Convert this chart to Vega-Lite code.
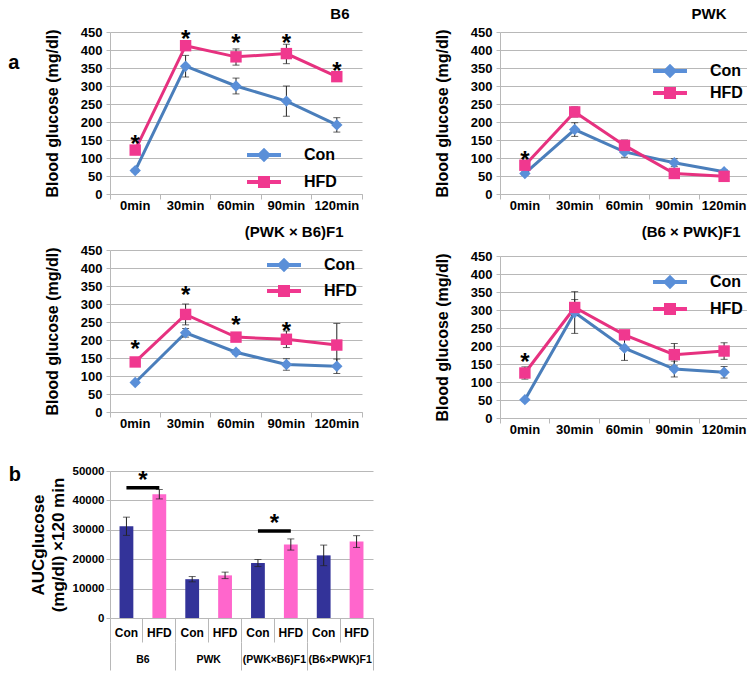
{
  "$schema": "https://vega.github.io/schema/vega-lite/v6.json",
  "padding": {"left": 8, "top": 7, "right": 0, "bottom": 0},
  "background": "white",
  "config": {
    "view": {"stroke": null},
    "font": "Liberation Sans",
    "axis": {"labelFont": "Liberation Sans", "labelFontWeight": "bold", "labelColor": "#000", "titleFont": "Liberation Sans", "titleFontWeight": "bold", "titleColor": "#000", "gridColor": "#b8b8b8", "domainColor": "#b8b8b8", "tickColor": "#b8b8b8"},
    "axisX": {"labelAngle": 0, "bandPosition": 1, "tickExtra": true, "tickSize": 5, "labelPadding": 0, "labelFontSize": 13, "grid": false},
    "title": {"font": "Liberation Sans", "fontWeight": "bold", "fontSize": 15, "color": "#000", "offset": 4},
    "legend": {"labelFont": "Liberation Sans", "labelFontWeight": "bold", "labelFontSize": 16, "labelColor": "#000"}
  },
  "datasets": {
    "lines": [
      {"strain": "B6", "time": "0min", "group": "Con", "value": 65, "lo": 60, "hi": 70},
      {"strain": "B6", "time": "30min", "group": "Con", "value": 355, "lo": 325, "hi": 385},
      {"strain": "B6", "time": "60min", "group": "Con", "value": 300, "lo": 278, "hi": 322},
      {"strain": "B6", "time": "90min", "group": "Con", "value": 258, "lo": 216, "hi": 300},
      {"strain": "B6", "time": "120min", "group": "Con", "value": 192, "lo": 172, "hi": 212},
      {"strain": "B6", "time": "0min", "group": "HFD", "value": 122, "lo": 114, "hi": 130},
      {"strain": "B6", "time": "30min", "group": "HFD", "value": 412, "lo": 405, "hi": 419},
      {"strain": "B6", "time": "60min", "group": "HFD", "value": 381, "lo": 358, "hi": 403},
      {"strain": "B6", "time": "90min", "group": "HFD", "value": 390, "lo": 362, "hi": 416},
      {"strain": "B6", "time": "120min", "group": "HFD", "value": 326, "lo": 320, "hi": 332},
      {"strain": "PWK", "time": "0min", "group": "Con", "value": 57, "lo": 52, "hi": 62},
      {"strain": "PWK", "time": "30min", "group": "Con", "value": 179, "lo": 160, "hi": 198},
      {"strain": "PWK", "time": "60min", "group": "Con", "value": 117, "lo": 102, "hi": 132},
      {"strain": "PWK", "time": "90min", "group": "Con", "value": 87, "lo": 76, "hi": 98},
      {"strain": "PWK", "time": "120min", "group": "Con", "value": 62, "lo": 57, "hi": 67},
      {"strain": "PWK", "time": "0min", "group": "HFD", "value": 80, "lo": 74, "hi": 86},
      {"strain": "PWK", "time": "30min", "group": "HFD", "value": 228, "lo": 214, "hi": 242},
      {"strain": "PWK", "time": "60min", "group": "HFD", "value": 135, "lo": 120, "hi": 150},
      {"strain": "PWK", "time": "90min", "group": "HFD", "value": 57, "lo": 52, "hi": 62},
      {"strain": "PWK", "time": "120min", "group": "HFD", "value": 49, "lo": 44, "hi": 54},
      {"strain": "PWKxB6", "time": "0min", "group": "Con", "value": 82, "lo": 78, "hi": 86},
      {"strain": "PWKxB6", "time": "30min", "group": "Con", "value": 220, "lo": 208, "hi": 232},
      {"strain": "PWKxB6", "time": "60min", "group": "Con", "value": 166, "lo": 160, "hi": 172},
      {"strain": "PWKxB6", "time": "90min", "group": "Con", "value": 132, "lo": 116, "hi": 148},
      {"strain": "PWKxB6", "time": "120min", "group": "Con", "value": 127, "lo": 107, "hi": 147},
      {"strain": "PWKxB6", "time": "0min", "group": "HFD", "value": 139, "lo": 134, "hi": 144},
      {"strain": "PWKxB6", "time": "30min", "group": "HFD", "value": 271, "lo": 242, "hi": 300},
      {"strain": "PWKxB6", "time": "60min", "group": "HFD", "value": 208, "lo": 203, "hi": 213},
      {"strain": "PWKxB6", "time": "90min", "group": "HFD", "value": 202, "lo": 179, "hi": 225},
      {"strain": "PWKxB6", "time": "120min", "group": "HFD", "value": 186, "lo": 126, "hi": 246},
      {"strain": "B6xPWK", "time": "0min", "group": "Con", "value": 51, "lo": 48, "hi": 54},
      {"strain": "B6xPWK", "time": "30min", "group": "Con", "value": 293, "lo": 235, "hi": 351},
      {"strain": "B6xPWK", "time": "60min", "group": "Con", "value": 194, "lo": 160, "hi": 228},
      {"strain": "B6xPWK", "time": "90min", "group": "Con", "value": 136, "lo": 114, "hi": 158},
      {"strain": "B6xPWK", "time": "120min", "group": "Con", "value": 127, "lo": 111, "hi": 143},
      {"strain": "B6xPWK", "time": "0min", "group": "HFD", "value": 125, "lo": 108, "hi": 142},
      {"strain": "B6xPWK", "time": "30min", "group": "HFD", "value": 307, "lo": 285, "hi": 329},
      {"strain": "B6xPWK", "time": "60min", "group": "HFD", "value": 231, "lo": 226, "hi": 236},
      {"strain": "B6xPWK", "time": "90min", "group": "HFD", "value": 176, "lo": 145, "hi": 207},
      {"strain": "B6xPWK", "time": "120min", "group": "HFD", "value": 186, "lo": 163, "hi": 209}
    ],
    "stars": [
      {"strain": "B6", "time": "0min", "y": 136},
      {"strain": "B6", "time": "30min", "y": 429},
      {"strain": "B6", "time": "60min", "y": 417},
      {"strain": "B6", "time": "90min", "y": 417},
      {"strain": "B6", "time": "120min", "y": 340},
      {"strain": "PWK", "time": "0min", "y": 93},
      {"strain": "PWKxB6", "time": "0min", "y": 171},
      {"strain": "PWKxB6", "time": "30min", "y": 321},
      {"strain": "PWKxB6", "time": "60min", "y": 239},
      {"strain": "PWKxB6", "time": "90min", "y": 222},
      {"strain": "B6xPWK", "time": "0min", "y": 152}
    ],
    "bars": [
      {"strain": "B6", "group": "Con", "key": "B6|Con", "value": 31200, "lo": 28100, "hi": 34300},
      {"strain": "B6", "group": "HFD", "key": "B6|HFD", "value": 42100, "lo": 40500, "hi": 43700},
      {"strain": "PWK", "group": "Con", "key": "PWK|Con", "value": 13200, "lo": 12300, "hi": 14100},
      {"strain": "PWK", "group": "HFD", "key": "PWK|HFD", "value": 14500, "lo": 13400, "hi": 15600},
      {"strain": "(PWK×B6)F1", "group": "Con", "key": "(PWK×B6)F1|Con", "value": 18700, "lo": 17500, "hi": 19900},
      {"strain": "(PWK×B6)F1", "group": "HFD", "key": "(PWK×B6)F1|HFD", "value": 25000, "lo": 23100, "hi": 26900},
      {"strain": "(B6×PWK)F1", "group": "Con", "key": "(B6×PWK)F1|Con", "value": 21300, "lo": 17800, "hi": 24800},
      {"strain": "(B6×PWK)F1", "group": "HFD", "key": "(B6×PWK)F1|HFD", "value": 26000, "lo": 24000, "hi": 28000}
    ],
    "sig": [
      {"key1": "B6|Con", "key2": "B6|HFD", "y": 44300, "ys": 46500},
      {"key1": "(PWK×B6)F1|Con", "key2": "(PWK×B6)F1|HFD", "y": 29600, "ys": 31900}
    ]
  },
  "columns": 1,
  "align": "none",
  "spacing": 29,
  "resolve": {"scale": {"color": "independent", "shape": "independent", "stroke": "independent"}, "legend": {"color": "independent", "shape": "independent", "stroke": "independent"}},
  "concat": [
    {
      "title": {"text": "a", "orient": "top", "anchor": "start", "fontSize": 20, "offset": 0, "dx": -36, "dy": 66},
      "columns": 2,
      "align": "none",
      "spacing": {"row": 13, "column": 71},
      "resolve": {"scale": {"color": "independent", "shape": "independent", "stroke": "independent"}, "legend": {"color": "independent", "shape": "independent", "stroke": "independent"}},
      "concat": [
        {
          "width": 252, "height": 162,
          "title": {"text": "B6", "anchor": "end", "dx": -13},
          "layer": [
            {"data": {"name": "lines"}, "transform": [{"filter": "datum.strain === 'B6'"}],
             "mark": {"type": "line", "strokeWidth": 3},
             "encoding": {
               "x": {"field": "time", "type": "ordinal", "sort": ["0min", "30min", "60min", "90min", "120min"], "scale": {"type": "band", "paddingInner": 0, "paddingOuter": 0}, "title": null},
               "y": {"field": "value", "type": "quantitative", "scale": {"domain": [0, 450]}, "title": "Blood glucose (mg/dl)", "axis": {"values": [0, 50, 100, 150, 200, 250, 300, 350, 400, 450], "grid": true, "labelFontSize": 13, "titleFontSize": 16, "titlePadding": 20, "tickSize": 4, "labelPadding": 4}},
               "stroke": {"field": "group", "type": "nominal", "scale": {"domain": ["Con", "HFD"], "range": ["#4a7ebb", "#e6317f"]},
                 "legend": {"title": null, "orient": "none", "legendX": 146, "legendY": 115, "padding": 0, "symbolSize": 144, "labelOffset": 32, "rowPadding": 11, "symbolStrokeWidth": 0,
                   "encoding": {"symbols": {"shape": {"condition": {"test": "datum.value === 'Con'", "value": "M-2.83,-0.33H2.83V0.33H-2.83Z M0,-1.2L1.2,0L0,1.2L-1.2,0Z"}, "value": "M-2.83,-0.33H2.83V0.33H-2.83Z M-1,-1H1V1H-1Z"}}}}}}},
            {"data": {"name": "lines"}, "transform": [{"filter": "datum.strain === 'B6'"}],
             "mark": {"type": "errorbar", "ticks": {"size": 7}, "color": "#222", "thickness": 1},
             "encoding": {
               "x": {"field": "time", "type": "ordinal", "sort": ["0min", "30min", "60min", "90min", "120min"], "title": null},
               "y": {"field": "lo", "type": "quantitative", "title": "Blood glucose (mg/dl)", "axis": {"values": [0, 50, 100, 150, 200, 250, 300, 350, 400, 450], "grid": true, "labelFontSize": 13, "titleFontSize": 16, "titlePadding": 20, "tickSize": 4, "labelPadding": 4}},
               "y2": {"field": "hi"}}},
            {"data": {"name": "lines"}, "transform": [{"filter": "datum.strain === 'B6'"}],
             "mark": {"type": "point", "filled": true, "size": 130, "opacity": 1},
             "encoding": {
               "x": {"field": "time", "type": "ordinal", "sort": ["0min", "30min", "60min", "90min", "120min"], "title": null},
               "y": {"field": "value", "type": "quantitative", "title": "Blood glucose (mg/dl)", "axis": {"values": [0, 50, 100, 150, 200, 250, 300, 350, 400, 450], "grid": true, "labelFontSize": 13, "titleFontSize": 16, "titlePadding": 20, "tickSize": 4, "labelPadding": 4}},
               "color": {"field": "group", "type": "nominal", "scale": {"domain": ["Con", "HFD"], "range": ["#5a8fd8", "#f0388f"]},
                 "legend": {"title": null, "orient": "none", "legendX": 146, "legendY": 115, "padding": 0, "symbolSize": 144, "labelOffset": 32, "rowPadding": 11, "symbolStrokeWidth": 0,
                   "encoding": {"symbols": {"shape": {"condition": {"test": "datum.value === 'Con'", "value": "M-2.83,-0.33H2.83V0.33H-2.83Z M0,-1.2L1.2,0L0,1.2L-1.2,0Z"}, "value": "M-2.83,-0.33H2.83V0.33H-2.83Z M-1,-1H1V1H-1Z"}}}}},
               "shape": {"field": "group", "type": "nominal", "scale": {"range": ["diamond", "square"]}, "legend": null}}},
            {"data": {"name": "stars"}, "transform": [{"filter": "datum.strain === 'B6'"}],
             "mark": {"type": "text", "text": "*", "fontSize": 24, "fontWeight": "bold", "baseline": "middle", "color": "#000"},
             "encoding": {
               "x": {"field": "time", "type": "ordinal", "sort": ["0min", "30min", "60min", "90min", "120min"], "title": null},
               "y": {"field": "y", "type": "quantitative", "title": "Blood glucose (mg/dl)", "axis": {"values": [0, 50, 100, 150, 200, 250, 300, 350, 400, 450], "grid": true, "labelFontSize": 13, "titleFontSize": 16, "titlePadding": 20, "tickSize": 4, "labelPadding": 4}}}}
          ]
        },
        {
          "width": 249, "height": 162,
          "title": {"text": "PWK", "anchor": "end", "dx": -23},
          "layer": [
            {"data": {"name": "lines"}, "transform": [{"filter": "datum.strain === 'PWK'"}],
             "mark": {"type": "line", "strokeWidth": 3},
             "encoding": {
               "x": {"field": "time", "type": "ordinal", "sort": ["0min", "30min", "60min", "90min", "120min"], "scale": {"type": "band", "paddingInner": 0, "paddingOuter": 0}, "title": null},
               "y": {"field": "value", "type": "quantitative", "scale": {"domain": [0, 450]}, "title": "Blood glucose (mg/dl)", "axis": {"values": [0, 50, 100, 150, 200, 250, 300, 350, 400, 450], "grid": true, "labelFontSize": 13, "titleFontSize": 16, "titlePadding": 20, "tickSize": 4, "labelPadding": 4}},
               "stroke": {"field": "group", "type": "nominal", "scale": {"domain": ["Con", "HFD"], "range": ["#4a7ebb", "#e6317f"]},
                 "legend": {"title": null, "orient": "none", "legendX": 162, "legendY": 31, "padding": 0, "symbolSize": 144, "labelOffset": 32, "rowPadding": 6, "symbolStrokeWidth": 0,
                   "encoding": {"symbols": {"shape": {"condition": {"test": "datum.value === 'Con'", "value": "M-2.83,-0.33H2.83V0.33H-2.83Z M0,-1.2L1.2,0L0,1.2L-1.2,0Z"}, "value": "M-2.83,-0.33H2.83V0.33H-2.83Z M-1,-1H1V1H-1Z"}}}}}}},
            {"data": {"name": "lines"}, "transform": [{"filter": "datum.strain === 'PWK'"}],
             "mark": {"type": "errorbar", "ticks": {"size": 7}, "color": "#222", "thickness": 1},
             "encoding": {
               "x": {"field": "time", "type": "ordinal", "sort": ["0min", "30min", "60min", "90min", "120min"], "title": null},
               "y": {"field": "lo", "type": "quantitative", "title": "Blood glucose (mg/dl)", "axis": {"values": [0, 50, 100, 150, 200, 250, 300, 350, 400, 450], "grid": true, "labelFontSize": 13, "titleFontSize": 16, "titlePadding": 20, "tickSize": 4, "labelPadding": 4}},
               "y2": {"field": "hi"}}},
            {"data": {"name": "lines"}, "transform": [{"filter": "datum.strain === 'PWK'"}],
             "mark": {"type": "point", "filled": true, "size": 130, "opacity": 1},
             "encoding": {
               "x": {"field": "time", "type": "ordinal", "sort": ["0min", "30min", "60min", "90min", "120min"], "title": null},
               "y": {"field": "value", "type": "quantitative", "title": "Blood glucose (mg/dl)", "axis": {"values": [0, 50, 100, 150, 200, 250, 300, 350, 400, 450], "grid": true, "labelFontSize": 13, "titleFontSize": 16, "titlePadding": 20, "tickSize": 4, "labelPadding": 4}},
               "color": {"field": "group", "type": "nominal", "scale": {"domain": ["Con", "HFD"], "range": ["#5a8fd8", "#f0388f"]},
                 "legend": {"title": null, "orient": "none", "legendX": 162, "legendY": 31, "padding": 0, "symbolSize": 144, "labelOffset": 32, "rowPadding": 6, "symbolStrokeWidth": 0,
                   "encoding": {"symbols": {"shape": {"condition": {"test": "datum.value === 'Con'", "value": "M-2.83,-0.33H2.83V0.33H-2.83Z M0,-1.2L1.2,0L0,1.2L-1.2,0Z"}, "value": "M-2.83,-0.33H2.83V0.33H-2.83Z M-1,-1H1V1H-1Z"}}}}},
               "shape": {"field": "group", "type": "nominal", "scale": {"range": ["diamond", "square"]}, "legend": null}}},
            {"data": {"name": "stars"}, "transform": [{"filter": "datum.strain === 'PWK'"}],
             "mark": {"type": "text", "text": "*", "fontSize": 24, "fontWeight": "bold", "baseline": "middle", "color": "#000"},
             "encoding": {
               "x": {"field": "time", "type": "ordinal", "sort": ["0min", "30min", "60min", "90min", "120min"], "title": null},
               "y": {"field": "y", "type": "quantitative", "title": "Blood glucose (mg/dl)", "axis": {"values": [0, 50, 100, 150, 200, 250, 300, 350, 400, 450], "grid": true, "labelFontSize": 13, "titleFontSize": 16, "titlePadding": 20, "tickSize": 4, "labelPadding": 4}}}}
          ]
        },
        {
          "width": 252, "height": 162,
          "title": {"text": "(PWK × B6)F1", "anchor": "end", "dx": -19},
          "layer": [
            {"data": {"name": "lines"}, "transform": [{"filter": "datum.strain === 'PWKxB6'"}],
             "mark": {"type": "line", "strokeWidth": 3},
             "encoding": {
               "x": {"field": "time", "type": "ordinal", "sort": ["0min", "30min", "60min", "90min", "120min"], "scale": {"type": "band", "paddingInner": 0, "paddingOuter": 0}, "title": null},
               "y": {"field": "value", "type": "quantitative", "scale": {"domain": [0, 450]}, "title": "Blood glucose (mg/dl)", "axis": {"values": [0, 50, 100, 150, 200, 250, 300, 350, 400, 450], "grid": true, "labelFontSize": 13, "titleFontSize": 16, "titlePadding": 20, "tickSize": 4, "labelPadding": 4}},
               "stroke": {"field": "group", "type": "nominal", "scale": {"domain": ["Con", "HFD"], "range": ["#4a7ebb", "#e6317f"]},
                 "legend": {"title": null, "orient": "none", "legendX": 166, "legendY": 7, "padding": 0, "symbolSize": 144, "labelOffset": 32, "rowPadding": 10, "symbolStrokeWidth": 0,
                   "encoding": {"symbols": {"shape": {"condition": {"test": "datum.value === 'Con'", "value": "M-2.83,-0.33H2.83V0.33H-2.83Z M0,-1.2L1.2,0L0,1.2L-1.2,0Z"}, "value": "M-2.83,-0.33H2.83V0.33H-2.83Z M-1,-1H1V1H-1Z"}}}}}}},
            {"data": {"name": "lines"}, "transform": [{"filter": "datum.strain === 'PWKxB6'"}],
             "mark": {"type": "errorbar", "ticks": {"size": 7}, "color": "#222", "thickness": 1},
             "encoding": {
               "x": {"field": "time", "type": "ordinal", "sort": ["0min", "30min", "60min", "90min", "120min"], "title": null},
               "y": {"field": "lo", "type": "quantitative", "title": "Blood glucose (mg/dl)", "axis": {"values": [0, 50, 100, 150, 200, 250, 300, 350, 400, 450], "grid": true, "labelFontSize": 13, "titleFontSize": 16, "titlePadding": 20, "tickSize": 4, "labelPadding": 4}},
               "y2": {"field": "hi"}}},
            {"data": {"name": "lines"}, "transform": [{"filter": "datum.strain === 'PWKxB6'"}],
             "mark": {"type": "point", "filled": true, "size": 130, "opacity": 1},
             "encoding": {
               "x": {"field": "time", "type": "ordinal", "sort": ["0min", "30min", "60min", "90min", "120min"], "title": null},
               "y": {"field": "value", "type": "quantitative", "title": "Blood glucose (mg/dl)", "axis": {"values": [0, 50, 100, 150, 200, 250, 300, 350, 400, 450], "grid": true, "labelFontSize": 13, "titleFontSize": 16, "titlePadding": 20, "tickSize": 4, "labelPadding": 4}},
               "color": {"field": "group", "type": "nominal", "scale": {"domain": ["Con", "HFD"], "range": ["#5a8fd8", "#f0388f"]},
                 "legend": {"title": null, "orient": "none", "legendX": 166, "legendY": 7, "padding": 0, "symbolSize": 144, "labelOffset": 32, "rowPadding": 10, "symbolStrokeWidth": 0,
                   "encoding": {"symbols": {"shape": {"condition": {"test": "datum.value === 'Con'", "value": "M-2.83,-0.33H2.83V0.33H-2.83Z M0,-1.2L1.2,0L0,1.2L-1.2,0Z"}, "value": "M-2.83,-0.33H2.83V0.33H-2.83Z M-1,-1H1V1H-1Z"}}}}},
               "shape": {"field": "group", "type": "nominal", "scale": {"range": ["diamond", "square"]}, "legend": null}}},
            {"data": {"name": "stars"}, "transform": [{"filter": "datum.strain === 'PWKxB6'"}],
             "mark": {"type": "text", "text": "*", "fontSize": 24, "fontWeight": "bold", "baseline": "middle", "color": "#000"},
             "encoding": {
               "x": {"field": "time", "type": "ordinal", "sort": ["0min", "30min", "60min", "90min", "120min"], "title": null},
               "y": {"field": "y", "type": "quantitative", "title": "Blood glucose (mg/dl)", "axis": {"values": [0, 50, 100, 150, 200, 250, 300, 350, 400, 450], "grid": true, "labelFontSize": 13, "titleFontSize": 16, "titlePadding": 20, "tickSize": 4, "labelPadding": 4}}}}
          ]
        },
        {
          "width": 249, "height": 162,
          "title": {"text": "(B6 × PWK)F1", "anchor": "end", "dx": -9, "offset": 10},
          "layer": [
            {"data": {"name": "lines"}, "transform": [{"filter": "datum.strain === 'B6xPWK'"}],
             "mark": {"type": "line", "strokeWidth": 3},
             "encoding": {
               "x": {"field": "time", "type": "ordinal", "sort": ["0min", "30min", "60min", "90min", "120min"], "scale": {"type": "band", "paddingInner": 0, "paddingOuter": 0}, "title": null},
               "y": {"field": "value", "type": "quantitative", "scale": {"domain": [0, 450]}, "title": "Blood glucose (mg/dl)", "axis": {"values": [0, 50, 100, 150, 200, 250, 300, 350, 400, 450], "grid": true, "labelFontSize": 13, "titleFontSize": 16, "titlePadding": 20, "tickSize": 4, "labelPadding": 4}},
               "stroke": {"field": "group", "type": "nominal", "scale": {"domain": ["Con", "HFD"], "range": ["#4a7ebb", "#e6317f"]},
                 "legend": {"title": null, "orient": "none", "legendX": 162, "legendY": 18, "padding": 0, "symbolSize": 144, "labelOffset": 32, "rowPadding": 11, "symbolStrokeWidth": 0,
                   "encoding": {"symbols": {"shape": {"condition": {"test": "datum.value === 'Con'", "value": "M-2.83,-0.33H2.83V0.33H-2.83Z M0,-1.2L1.2,0L0,1.2L-1.2,0Z"}, "value": "M-2.83,-0.33H2.83V0.33H-2.83Z M-1,-1H1V1H-1Z"}}}}}}},
            {"data": {"name": "lines"}, "transform": [{"filter": "datum.strain === 'B6xPWK'"}],
             "mark": {"type": "errorbar", "ticks": {"size": 7}, "color": "#222", "thickness": 1},
             "encoding": {
               "x": {"field": "time", "type": "ordinal", "sort": ["0min", "30min", "60min", "90min", "120min"], "title": null},
               "y": {"field": "lo", "type": "quantitative", "title": "Blood glucose (mg/dl)", "axis": {"values": [0, 50, 100, 150, 200, 250, 300, 350, 400, 450], "grid": true, "labelFontSize": 13, "titleFontSize": 16, "titlePadding": 20, "tickSize": 4, "labelPadding": 4}},
               "y2": {"field": "hi"}}},
            {"data": {"name": "lines"}, "transform": [{"filter": "datum.strain === 'B6xPWK'"}],
             "mark": {"type": "point", "filled": true, "size": 130, "opacity": 1},
             "encoding": {
               "x": {"field": "time", "type": "ordinal", "sort": ["0min", "30min", "60min", "90min", "120min"], "title": null},
               "y": {"field": "value", "type": "quantitative", "title": "Blood glucose (mg/dl)", "axis": {"values": [0, 50, 100, 150, 200, 250, 300, 350, 400, 450], "grid": true, "labelFontSize": 13, "titleFontSize": 16, "titlePadding": 20, "tickSize": 4, "labelPadding": 4}},
               "color": {"field": "group", "type": "nominal", "scale": {"domain": ["Con", "HFD"], "range": ["#5a8fd8", "#f0388f"]},
                 "legend": {"title": null, "orient": "none", "legendX": 162, "legendY": 18, "padding": 0, "symbolSize": 144, "labelOffset": 32, "rowPadding": 11, "symbolStrokeWidth": 0,
                   "encoding": {"symbols": {"shape": {"condition": {"test": "datum.value === 'Con'", "value": "M-2.83,-0.33H2.83V0.33H-2.83Z M0,-1.2L1.2,0L0,1.2L-1.2,0Z"}, "value": "M-2.83,-0.33H2.83V0.33H-2.83Z M-1,-1H1V1H-1Z"}}}}},
               "shape": {"field": "group", "type": "nominal", "scale": {"range": ["diamond", "square"]}, "legend": null}}},
            {"data": {"name": "stars"}, "transform": [{"filter": "datum.strain === 'B6xPWK'"}],
             "mark": {"type": "text", "text": "*", "fontSize": 24, "fontWeight": "bold", "baseline": "middle", "color": "#000"},
             "encoding": {
               "x": {"field": "time", "type": "ordinal", "sort": ["0min", "30min", "60min", "90min", "120min"], "title": null},
               "y": {"field": "y", "type": "quantitative", "title": "Blood glucose (mg/dl)", "axis": {"values": [0, 50, 100, 150, 200, 250, 300, 350, 400, 450], "grid": true, "labelFontSize": 13, "titleFontSize": 16, "titlePadding": 20, "tickSize": 4, "labelPadding": 4}}}}
          ]
        }
      ]
    },
    {
      "width": 263, "height": 147,
      "title": {"text": "b", "orient": "left", "anchor": "end", "angle": 0, "fontSize": 20, "offset": 8, "align": "left", "baseline": "top"},
      "layer": [
        {
          "layer": [
            {"data": {"name": "bars"},
             "mark": {"type": "bar", "width": {"band": 0.42}},
             "encoding": {
               "x": {"field": "key", "type": "nominal", "scale": {"type": "band", "domain": ["B6|Con", "B6|HFD", "PWK|Con", "PWK|HFD", "(PWK×B6)F1|Con", "(PWK×B6)F1|HFD", "(B6×PWK)F1|Con", "(B6×PWK)F1|HFD"], "paddingInner": 0, "paddingOuter": 0}, "title": null,
                 "axis": {"orient": "bottom", "labelExpr": "split(datum.label, '|')[1]", "tickSize": 24, "labelPadding": -15, "labelFontSize": 12}},
               "y": {"field": "value", "type": "quantitative", "scale": {"domain": [0, 50000]}, "title": ["AUCglucose", "(mg/dl) ×120 min"],
                 "axis": {"values": [0, 10000, 20000, 30000, 40000, 50000], "format": "d", "grid": true, "labelFontSize": 11.5, "titleFontSize": 17, "titlePadding": 5, "titleLineHeight": 20, "tickSize": 4, "labelPadding": 2}},
               "color": {"field": "group", "type": "nominal", "scale": {"domain": ["Con", "HFD"], "range": ["#333399", "#ff66cc"]}, "legend": null}}},
            {"data": {"name": "bars"},
             "mark": {"type": "errorbar", "ticks": {"size": 7}, "color": "#222", "thickness": 1},
             "encoding": {
               "x": {"field": "key", "type": "nominal", "title": null},
               "y": {"field": "lo", "type": "quantitative", "title": ["AUCglucose", "(mg/dl) ×120 min"], "axis": {"values": [0, 10000, 20000, 30000, 40000, 50000], "format": "d", "grid": true, "labelFontSize": 11.5, "titleFontSize": 17, "titlePadding": 5, "titleLineHeight": 20, "tickSize": 4, "labelPadding": 2}},
               "y2": {"field": "hi"}}},
            {"data": {"name": "sig"},
             "mark": {"type": "rule", "strokeWidth": 3.5, "color": "#000"},
             "encoding": {
               "x": {"field": "key1", "type": "nominal", "title": null},
               "x2": {"field": "key2"},
               "y": {"field": "y", "type": "quantitative", "title": ["AUCglucose", "(mg/dl) ×120 min"], "axis": {"values": [0, 10000, 20000, 30000, 40000, 50000], "format": "d", "grid": true, "labelFontSize": 11.5, "titleFontSize": 17, "titlePadding": 5, "titleLineHeight": 20, "tickSize": 4, "labelPadding": 2}}}},
            {"data": {"name": "sig"},
             "mark": {"type": "text", "text": "*", "fontSize": 24, "fontWeight": "bold", "baseline": "middle", "color": "#000"},
             "encoding": {
               "x": {"field": "key2", "type": "nominal", "title": null, "bandPosition": 0},
               "y": {"field": "ys", "type": "quantitative", "title": ["AUCglucose", "(mg/dl) ×120 min"], "axis": {"values": [0, 10000, 20000, 30000, 40000, 50000], "format": "d", "grid": true, "labelFontSize": 11.5, "titleFontSize": 17, "titlePadding": 5, "titleLineHeight": 20, "tickSize": 4, "labelPadding": 2}}}}
          ]
        },
        {"data": {"name": "bars"},
         "mark": {"type": "tick", "opacity": 0},
         "encoding": {
           "x": {"field": "strain", "type": "nominal", "scale": {"type": "band", "domain": ["B6", "PWK", "(PWK×B6)F1", "(B6×PWK)F1"], "paddingInner": 0, "paddingOuter": 0}, "title": null,
             "axis": {"orient": "bottom", "offset": 24, "tickSize": 28, "domain": false, "labelPadding": -16, "labelFontSize": 10.5}}}}
      ],
      "resolve": {"scale": {"x": "independent"}, "axis": {"x": "independent"}}
    }
  ]
}
